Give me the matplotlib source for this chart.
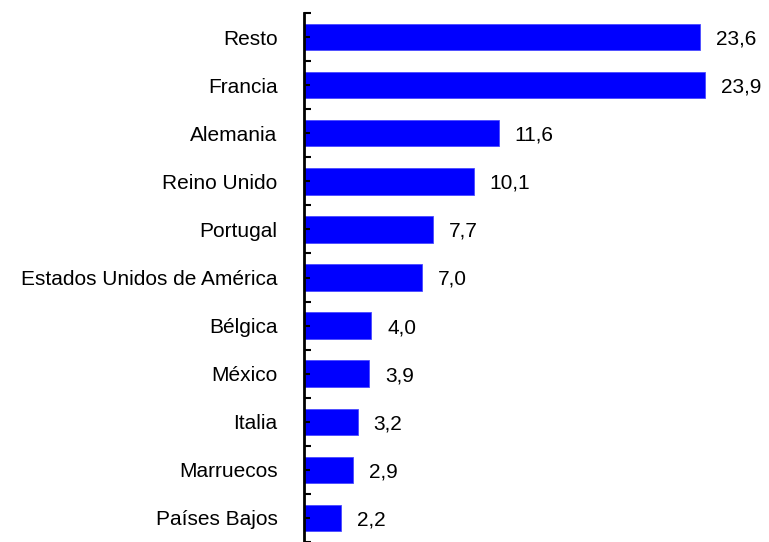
import matplotlib
matplotlib.use('Agg')
import matplotlib.pyplot as plt
import numpy as np

categories = ["Resto", "Francia", "Alemania", "Reino Unido", "Portugal",
              "Estados Unidos de América", "Bélgica", "México", "Italia",
              "Marruecos", "Países Bajos"]
values = [23.6, 23.9, 11.6, 10.1, 7.7, 7.0, 4.0, 3.9, 3.2, 2.9, 2.2]

plt.rcParams['font.family'] = ['Liberation Sans', 'DejaVu Sans']

fig = plt.figure(figsize=(7.69, 5.42), dpi=100)
ax = fig.add_axes([304 / 769, 0.0, 465 / 769, (542 - 13) / 542])

y = np.arange(len(categories))
ax.barh(y, values, height=0.55, color='#0000ff', edgecolor='#4a4aff', linewidth=0.6)

for yi, v in zip(y, values):
    ax.text(v + 0.95, yi + 0.04, f"{v:.1f}".replace('.', ','), va='center', ha='left', fontsize=15)

ax.set_ylim(len(categories) - 0.5, -0.5)
ax.set_xlim(0, 27.7)
ax.set_yticks(y)
ax.set_yticklabels(categories, fontsize=15)
ax.set_yticks(np.arange(len(categories) + 1) - 0.5, minor=True)
ax.tick_params(axis='y', which='major', direction='in', length=4, width=1.5, pad=19)
ax.tick_params(axis='y', which='minor', direction='in', length=5, width=1.5)
ax.set_xticks([])

for s in ['top', 'right', 'bottom']:
    ax.spines[s].set_visible(False)
ax.spines['left'].set_linewidth(2)

fig.savefig('out.png', dpi=100)
